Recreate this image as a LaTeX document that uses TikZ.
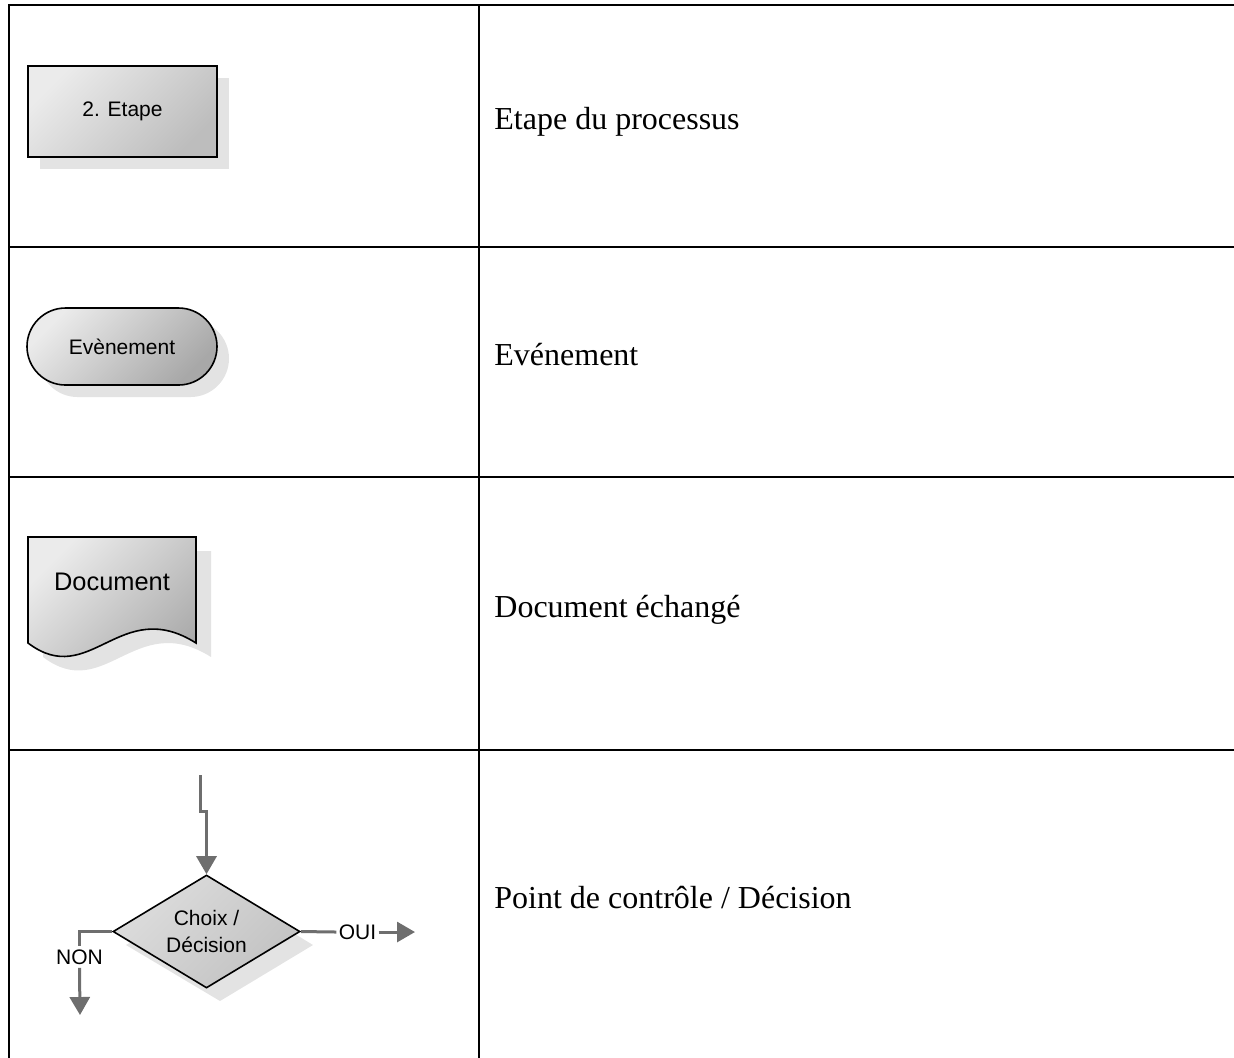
\documentclass[tikz,border=0pt]{standalone}
\usepackage{fontspec}
\setmainfont{Liberation Serif}
\setsansfont{Liberation Sans}
\usetikzlibrary{shapes.geometric,arrows.meta}
\definecolor{connc}{HTML}{6E6E6E}
\definecolor{shadowgray}{HTML}{E3E3E3}
\definecolor{lightA}{HTML}{EBEBEB}
\definecolor{darkA}{HTML}{BDBDBD}
\definecolor{darkB}{HTML}{A8A8A8}
\definecolor{lightD}{HTML}{DDDDDD}
\definecolor{darkD}{HTML}{C2C2C2}
\begin{document}
\begin{tikzpicture}[x=0.5pt,y=-0.5pt,
  tableline/.style={line width=1pt,black},
  shapebox/.style={draw=black,line width=0.8pt},
  shadowfill/.style={fill=shadowgray,draw=none},
  connline/.style={draw=connc,line width=1.5pt},
  connarrow/.style={connline,-{Triangle[length=9pt,width=10pt]}},
  lbl/.style={font=\sffamily\fontsize{10.5}{13.5}\selectfont,align=center},
  desc/.style={font=\fontsize{16}{19}\selectfont,anchor=base west,inner sep=0pt}]
\useasboundingbox (0,0) rectangle (1234,1057);
% table
\draw[tableline] (8,5) -- (1240,5);
\draw[tableline] (9,4) -- (9,1062);
\draw[tableline] (479,4) -- (479,1062);
\draw[tableline] (9,247) -- (1240,247);
\draw[tableline] (9,477) -- (1240,477);
\draw[tableline] (9,750) -- (1240,750);
% row 1 : process step
\fill[shadowfill] (40,78) rectangle (229,169);
\node[shapebox,lbl,top color=lightA,bottom color=darkA,shading angle=45,
      minimum width=94.5pt,minimum height=45.5pt,inner sep=0pt] (etape) at (122.5,111.5) {2. Etape};
% row 2 : event
\fill[shadowfill,rounded corners=19.25pt] (39,320) rectangle (229,397);
\node[shapebox,lbl,top color=lightA,bottom color=darkB,shading angle=45,rounded corners=19.25pt,
      minimum width=95pt,minimum height=38.5pt,inner sep=0pt] (event) at (122,346.5) {Evènement};
% row 3 : document
\fill[shadowfill,shift={(15,14)}] (28,537) -- (196,537) -- (196,643)
   .. controls (120,595) and (90,690) .. (28,643) -- cycle;
\draw[shapebox,top color=lightA,bottom color=darkB,shading angle=45] (28,537) -- (196,537) -- (196,643)
   .. controls (120,595) and (90,690) .. (28,643) -- cycle;
\node[font=\sffamily\fontsize{12.7}{15}\selectfont,inner sep=0pt] (doc) at (112,582) {Document};
% row 4 : decision
\fill[shadowfill] (220,888) -- (313,945) -- (220,1001) -- (126,945) -- cycle;
\node[shapebox,lbl,diamond,aspect=1.65,top color=lightD,bottom color=darkD,shading angle=45,
      minimum width=93.5pt,minimum height=56.5pt,inner sep=0pt] (dec) at (206.5,931.5) {Choix /\\Décision};
\coordinate (inc) at (200,775);
\draw[connarrow] (inc) -- (200,811) -| (dec.north);
\node[lbl,inner xsep=1pt,inner ysep=0pt] (oui) at (357.5,932) {OUI};
\coordinate (ouiend) at (415,932);
\draw[connline] (dec.east) -- (oui.west);
\draw[connarrow] (oui.east) -- (ouiend);
\node[lbl,inner xsep=0pt,inner ysep=1.5pt] (non) at (79.5,957) {NON};
\coordinate (nonend) at (80,1015);
\draw[connline] (dec.west) -| (non.north);
\draw[connarrow] (non.south) -- (nonend);
% descriptions
\node[desc] (d1) at (494,129) {Etape du processus};
\node[desc] (d2) at (494,365) {Evénement};
\node[desc] (d3) at (494,617) {Document échangé};
\node[desc] (d4) at (494,908) {Point de contrôle / Décision};
\end{tikzpicture}
\end{document}
